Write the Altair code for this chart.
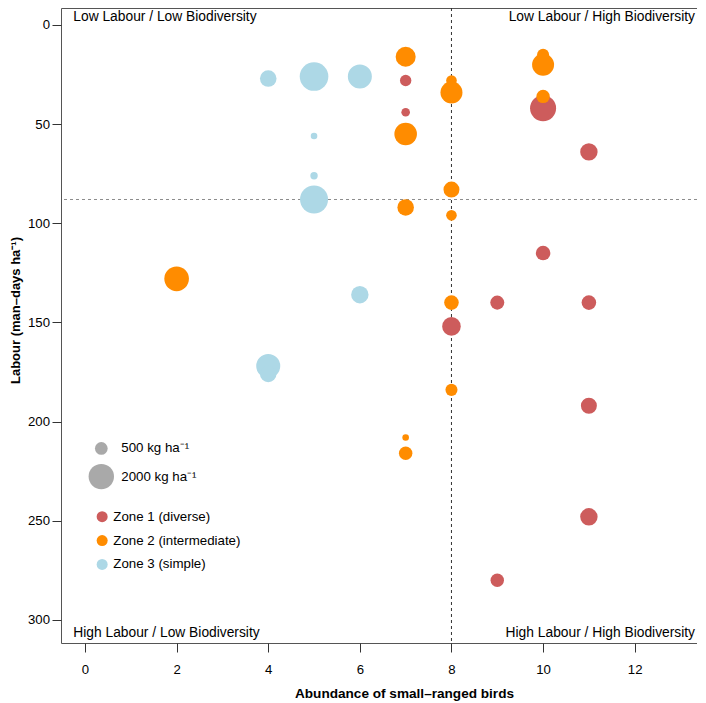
import altair as alt
import pandas as pd

# ---- data ----
zone_names = ["Zone 1 (diverse)", "Zone 2 (intermediate)", "Zone 3 (simple)"]
zone_colors = ["#CD5C5C", "#FF8C00", "#ADD8E6"]

z1_birds = [7, 7, 10, 11, 10, 9, 11, 8, 11, 11, 9]
z1_labour = [28, 44, 42, 64, 115, 140, 140, 152, 192, 248, 280]
z1_yield = [400, 230, 2100, 940, 660, 610, 660, 1070, 790, 940, 560]

z2_birds = [2, 7, 7, 8, 8, 10, 10, 10, 8, 7, 8, 8, 8, 7, 7]
z2_labour = [128, 16, 55, 28, 34, 15, 20, 36, 83, 92, 96, 140, 184, 208, 216]
z2_yield = [1880, 1240, 1580, 350, 1500, 450, 1500, 560, 790, 850, 350, 660, 450, 135, 560]

z3_birds = [4, 5, 6, 5, 5, 5, 6, 4, 4]
z3_labour = [27, 26, 26, 56, 76, 88, 136, 172, 176]
z3_yield = [850, 2540, 1790, 135, 170, 2430, 940, 1790, 850]

bird_threshold = [8]
labour_threshold = [88]

x_ticks = [0, 2, 4, 6, 8, 10, 12]
y_ticks = [0, 50, 100, 150, 200, 250, 300]
legend_yields = [500, 2000]

quadrant_labels = ["Low Labour / Low Biodiversity", "Low Labour / High Biodiversity",
                   "High Labour / Low Biodiversity", "High Labour / High Biodiversity"]

rows = []
for name, xs, ys, ws in [(zone_names[0], z1_birds, z1_labour, z1_yield),
                         (zone_names[1], z2_birds, z2_labour, z2_yield),
                         (zone_names[2], z3_birds, z3_labour, z3_yield)]:
    for a, b, c in zip(xs, ys, ws):
        rows.append({"zone": name, "birds": a, "labour": b, "yield": c})
df = pd.DataFrame(rows)

FONT = "Liberation Sans"
W, H = 636, 635

xscale = alt.Scale(domain=[-0.524, 13.36], nice=False, zero=False)
yscale = alt.Scale(domain=[-8.57, 311.65], nice=False, zero=False, reverse=True)

xaxis = alt.Axis(values=x_ticks, format="d", title="Abundance of small\u2013ranged birds",
                 titleFontWeight="bold", titleFontSize=13.6, titleX=343, titleY=54,
                 titleBaseline="alphabetic", titleAlign="center",
                 labelFontSize=13.2, labelPadding=11, tickSize=9, grid=False, domain=False)
yaxis = alt.Axis(values=y_ticks, format="d", title="Labour (man\u2013days ha\u207b\u00b9)",
                 titleFontWeight="bold", titleFontSize=13, titleX=-46, titleY=302,
                 titleAngle=270, titleBaseline="middle", titleAlign="center",
                 labelFontSize=13.2, labelPadding=2.5, tickSize=9, grid=False, domain=False)

vline = alt.Chart(pd.DataFrame({"birds": bird_threshold})).mark_rule(
    color="#333333", strokeDash=[3, 3], strokeWidth=1
).encode(x=alt.X("birds:Q", scale=xscale, axis=xaxis))

hline = alt.Chart(pd.DataFrame({"labour": labour_threshold})).mark_rule(
    color="#8c8c8c", strokeDash=[3, 3], strokeWidth=1
).encode(y=alt.Y("labour:Q", scale=yscale, axis=yaxis))

points = alt.Chart(df).mark_circle(opacity=1, strokeWidth=0).encode(
    x=alt.X("birds:Q", scale=xscale, axis=xaxis),
    y=alt.Y("labour:Q", scale=yscale, axis=yaxis),
    color=alt.Color("zone:N", scale=alt.Scale(domain=zone_names, range=zone_colors),
                    legend=alt.Legend(title=None, orient="none", legendX=34.5, legendY=502,
                                      symbolSize=121, symbolType="circle", symbolStrokeWidth=0,
                                      symbolOpacity=1, labelOffset=4.5, rowPadding=9.9,
                                      labelFontSize=13.3, labelFont=FONT, labelColor="black")),
    size=alt.Size("yield:Q", scale=alt.Scale(type="linear", domain=[0, 2000], range=[0, 645]),
                  legend=alt.Legend(title=None, orient="none", legendX=27.3, legendY=433.8,
                                    values=legend_yields,
                                    labelExpr="datum.value + ' kg ha\u207b\u00b9'",
                                    symbolFillColor="#A9A9A9", symbolStrokeWidth=0,
                                    symbolOpacity=1, symbolType="circle",
                                    labelOffset=7, rowPadding=8.8,
                                    labelFontSize=13.3, labelFont=FONT, labelColor="black")),
)

def qlabel(text, px, py, align):
    return alt.Chart(pd.DataFrame({"t": [text]})).mark_text(
        align=align, baseline="alphabetic", fontSize=13.8, font=FONT, color="black"
    ).encode(x=alt.value(px), y=alt.value(py), text="t:N")

labels = [
    qlabel(quadrant_labels[0], 12.3, 12.5, "left"),
    qlabel(quadrant_labels[1], W - 2, 12.5, "right"),
    qlabel(quadrant_labels[2], 12.3, H - 6, "left"),
    qlabel(quadrant_labels[3], W - 2, H - 6, "right"),
]

chart = alt.layer(vline, hline, points, *labels).properties(
    width=W, height=H,
    autosize=alt.AutoSizeParams(type="none"),
    padding={"left": 53, "top": 0, "right": 0, "bottom": 60},
).configure(font=FONT).configure_view(
    stroke="#555555", strokeWidth=1
).configure_axis(
    labelFont=FONT, titleFont=FONT, labelColor="black", titleColor="black",
    tickColor="#333333"
)

chart.save("out.html", embed_options={"renderer": "svg", "actions": False})
